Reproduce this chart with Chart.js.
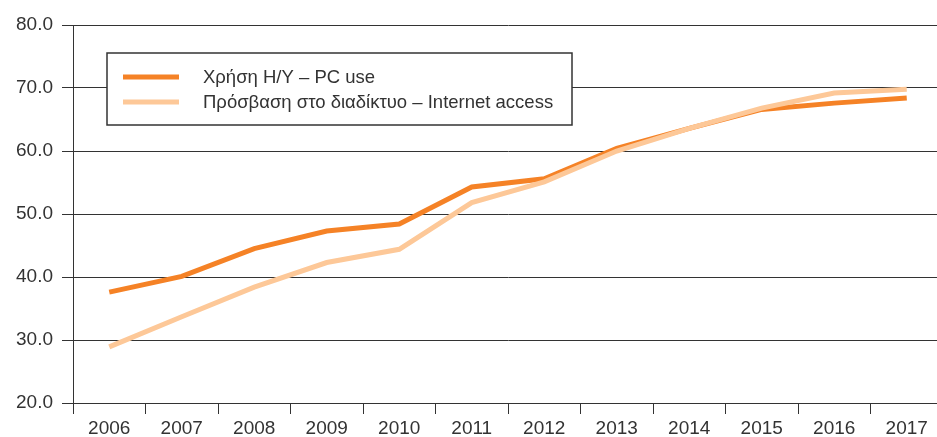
<!DOCTYPE html>
<html>
<head>
<meta charset="utf-8">
<script src="https://cdn.jsdelivr.net/npm/chart.js@4/dist/chart.umd.min.js"></script>
<style>
  html, body { margin: 0; padding: 0; background: #fff; overflow: hidden; }
  #wrap { width: 943px; height: 437px; }
</style>
</head>
<body>
<div id="wrap"><canvas id="myChart" width="943" height="437"></canvas></div>
<script>
const years = ['2006', '2007', '2008', '2009', '2010', '2011', '2012', '2013', '2014', '2015', '2016', '2017'];
const pcUse = [37.6, 40.1, 44.5, 47.3, 48.4, 54.3, 55.6, 60.4, 63.6, 66.6, 67.6, 68.4];
const internetAccess = [28.9, 33.7, 38.4, 42.3, 44.4, 51.8, 55.1, 60.0, 63.6, 66.8, 69.2, 69.8];
const seriesNames = ['Χρήση Η/Υ – PC use', 'Πρόσβαση στο διαδίκτυο – Internet access'];
const yTicks = [20, 30, 40, 50, 60, 70, 80];

const darkOrange = 'rgb(245, 130, 38)';
const lightOrange = 'rgb(253, 200, 152)';
const ink = '#333';
const family = "'Liberation Sans', Arial, sans-serif";
const tickFont = { family: family, size: 19 };
const legendFontSize = 18.5;

// boxed legend drawn over the top-left of the plot
const boxLegend = {
  id: 'boxLegend',
  afterDatasetsDraw(chart) {
    const { ctx, chartArea } = chart;
    const x = chartArea.left + 34, y = chartArea.top + 28;
    const w = 465, h = 72;
    ctx.save();
    ctx.fillStyle = '#fff';
    ctx.fillRect(x, y, w, h);
    ctx.strokeStyle = ink;
    ctx.lineWidth = 1.5;
    ctx.strokeRect(x, y, w, h);
    ctx.font = `${legendFontSize}px ${family}`;
    ctx.textBaseline = 'middle';
    chart.data.datasets.forEach((ds, i) => {
      const ly = y + 24 + i * 25;
      ctx.strokeStyle = ds.borderColor;
      ctx.lineWidth = 5;
      ctx.beginPath();
      ctx.moveTo(x + 16, ly);
      ctx.lineTo(x + 72, ly);
      ctx.stroke();
      ctx.fillStyle = ink;
      ctx.fillText(ds.label, x + 96, ly + 1);
    });
    ctx.restore();
  }
};

new Chart(document.getElementById('myChart'), {
  type: 'line',
  data: {
    labels: years,
    datasets: [
      {
        label: seriesNames[0],
        data: pcUse,
        borderColor: darkOrange,
        backgroundColor: darkOrange,
        borderWidth: 5,
        order: 1
      },
      {
        label: seriesNames[1],
        data: internetAccess,
        borderColor: lightOrange,
        backgroundColor: lightOrange,
        borderWidth: 5,
        order: 0
      }
    ]
  },
  options: {
    responsive: false,
    animation: false,
    layout: { padding: { top: 25, right: 0, left: 0, bottom: 0 } },
    elements: {
      point: { radius: 0 },
      line: { tension: 0, borderCapStyle: 'butt', borderJoinStyle: 'miter' }
    },
    plugins: {
      legend: { display: false },
      tooltip: { enabled: false }
    },
    scales: {
      x: {
        offset: true,
        grid: {
          offset: true,
          drawOnChartArea: false,
          drawTicks: true,
          tickLength: 11,
          color: ink,
          lineWidth: 1
        },
        border: { display: false },
        ticks: { color: ink, font: tickFont, padding: 3, maxRotation: 0, autoSkip: false },
        afterFit(scale) { scale.height = 34; }
      },
      y: {
        min: 20,
        max: 80,
        afterBuildTicks(scale) { scale.ticks = yTicks.map(v => ({ value: v })); },
        grid: {
          color: ink,
          lineWidth: 1,
          drawTicks: true,
          tickLength: 11
        },
        border: { display: true, color: ink, width: 1 },
        ticks: {
          color: ink,
          font: tickFont,
          padding: 9,
          callback: v => Number(v).toFixed(1)
        },
        afterFit(scale) { scale.width = 73; }
      }
    }
  },
  plugins: [boxLegend]
});
</script>
</body>
</html>
